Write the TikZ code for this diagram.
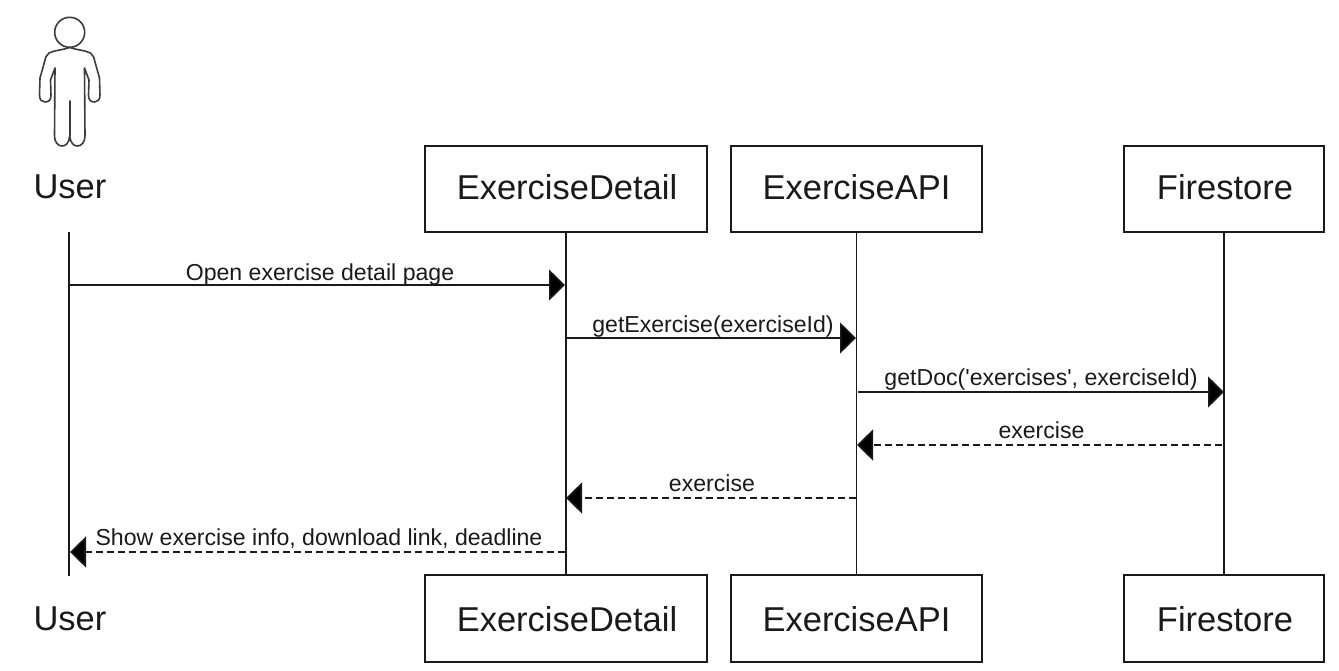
\documentclass[tikz,border=0pt]{standalone}
\usepackage{fontspec}
\setmainfont{Liberation Sans}
\usetikzlibrary{arrows.meta}
\definecolor{ink}{HTML}{1A1A1A}
\tikzset{
  part/.style={draw=ink,line width=1.6pt,fill=white,minimum height=86.5pt,inner sep=0pt,font=\fontsize{34.5}{40}\selectfont,text=ink},
  parttop/.style={part,text height=25pt,text depth=5pt},
  partbot/.style={part,text height=25pt,text depth=0pt},
  plainlabel/.style={inner sep=0pt,font=\fontsize{34.5}{40}\selectfont,text=ink},
  lifeline/.style={draw=ink,line width=1.6pt},
  msg/.style={draw=ink,line width=1.6pt,-{Triangle[length=16pt,width=31pt,fill=black]},shorten >=0pt},
  reply/.style={msg,dash pattern=on 7pt off 4pt},
  msglabel/.style={inner sep=0pt,font=\fontsize{23.1}{27}\selectfont,text=ink,anchor=base},
  figure/.style={draw=ink!85,line width=1.6pt,line join=round,line cap=round}
}
\begin{document}
\begin{tikzpicture}[x=1pt,y=-1pt]
\useasboundingbox (0,0) rectangle (1339,670);
\fill[white] (0,0) rectangle (1339,670);
% lifelines ends
\coordinate (uT) at (69,232); \coordinate (uB) at (69,576);
\node[parttop,minimum width=282pt] (dT) at (566,189) {\hspace{2pt}ExerciseDetail};
\node[parttop,minimum width=251pt] (aT) at (856.5,189) {ExerciseAPI};
\node[parttop,minimum width=200pt] (fT) at (1224,189) {\hspace{2pt}Firestore};
\node[partbot,minimum width=282pt] (dB) at (566,618.5) {\hspace{2pt}ExerciseDetail};
\node[partbot,minimum width=251pt] (aB) at (856.5,618.5) {ExerciseAPI};
\node[partbot,minimum width=200pt] (fB) at (1224,618.5) {\hspace{2pt}Firestore};
\node[plainlabel] (uTl) at (70,187) {User};
\node[plainlabel] (uBl) at (70,619) {User};
\draw[lifeline] (uT) -- (uB);
\draw[lifeline] (dT) -- (dB);
\draw[lifeline] (aT) -- (aB);
\draw[lifeline] (fT) -- (fB);
% actor
\node[circle,draw=ink!85,line width=1.6pt,minimum size=30pt,inner sep=0pt] (head) at (69.7,32.3) {};
\draw[figure] (69.7,47.5) .. controls (63,50) and (55,50) .. (49,53)
  .. controls (46,55) and (45.5,58) .. (44.5,62) -- (40,78) -- (39.5,95)
  .. controls (39.5,100) and (42,102) .. (45,102) .. controls (49,102) and (51,100) .. (51,95)
  -- (50.5,80) -- (55,68) -- (54.5,136)
  .. controls (54.5,142) and (58,146) .. (62,146) .. controls (66,146) and (69,143) .. (69.7,136)
  .. controls (70.5,143) and (73.5,146) .. (77.5,146) .. controls (81.5,146) and (85,142) .. (85,136)
  -- (84.5,68) -- (89,80) -- (88.5,95)
  .. controls (88.5,100) and (90.5,102) .. (94.5,102) .. controls (97.5,102) and (100,100) .. (100,95)
  -- (99.5,78) -- (95,62)
  .. controls (94,58) and (93.5,55) .. (90.5,53) .. controls (84.5,50) and (76.5,50) .. (69.7,47.5);
\draw[figure] (69.7,101) -- (69.7,136);
% message endpoints
\coordinate (m1a) at (69,285); \coordinate (m1b) at (565,285);
\coordinate (m2a) at (567,338); \coordinate (m2b) at (856,338);
\coordinate (m3a) at (858,392); \coordinate (m3b) at (1224,392);
\coordinate (m4a) at (1222,445); \coordinate (m4b) at (857,445);
\coordinate (m5a) at (856,498); \coordinate (m5b) at (566,498);
\coordinate (m6a) at (565,552); \coordinate (m6b) at (70,552);
\draw[msg] (m1a) -- (m1b);
\draw[msg] (m2a) -- (m2b);
\draw[msg] (m3a) -- (m3b);
\draw[reply] (m4a) -- (m4b);
\draw[reply] (m5a) -- (m5b);
\draw[reply] (m6a) -- (m6b);
\node[msglabel] (l1) at (320,280) {Open exercise detail page};
\node[msglabel] (l2) at (713,332) {getExercise(exerciseId)};
\node[msglabel] (l3) at (1041,385) {getDoc(\textquotesingle exercises\textquotesingle, exerciseId)};
\node[msglabel] (l4) at (1041.5,438) {exercise};
\node[msglabel] (l5) at (712,491) {exercise};
\node[msglabel] (l6) at (319,545) {Show exercise info, download link, deadline};
\end{tikzpicture}
\end{document}
